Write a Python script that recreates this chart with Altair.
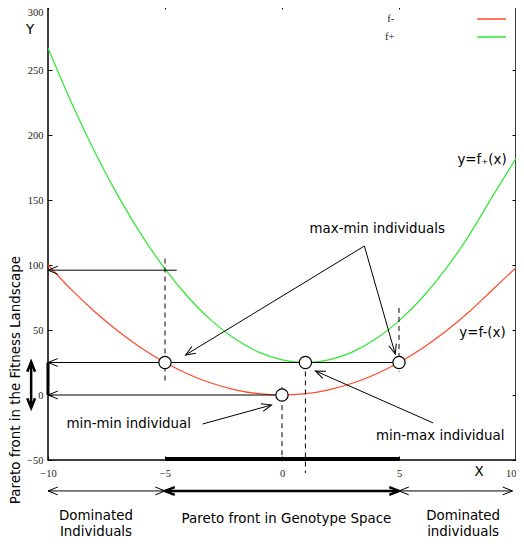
import math
import altair as alt
import pandas as pd

# ---------------- data ----------------
xs = list(range(-10, 11))
f_minus = [100, 81, 64, 49, 36, 25, 16, 9, 4, 1, 0, 1, 4, 9, 16, 25, 36, 49, 64, 81, 98]
f_plus = [267, 225, 187, 153, 123, 97, 75, 57, 43, 33, 27, 25, 27, 33, 43, 57, 75, 97, 123, 153, 182]

x_ticks = [-10, -5, 0, 5, 10]
y_ticks = [-50, 0, 50, 100, 150, 200, 250, 300]

# highlighted individuals (open circles)
pt_x = [-5, 1, 5, 0]
pt_y = [25, 25, 25, 0]

# dashed verticals
dash_x = [-5, 5, 0, 1]
dash_y1 = [105, 67, 6, 25]
dash_y2 = [8, 18, -51, -60]

# horizontal guides, arrowhead at the left end
hl_y = [96, 25, 0]
hl_x1 = [-10, -10, -10]
hl_x2 = [-4.5, 5, 0]

# callout arrows: start -> tip
ca_x1 = [3.52, 3.52, -3.39, 6.46]
ca_y1 = [114.6, 114.6, -22.3, -21.5]
ca_x2 = [-4.12, 4.84, -0.45, 1.43]
ca_y2 = [30.8, 31.5, -7.7, 18.5]

# bottom double arrows (genotype space)
ba_x1 = [-10, -5, 5]
ba_x2 = [-5, 5, 9.85]
ba_y = -73.8
ba_w = [1, 2.5, 1]

# left bold double arrow (fitness landscape)
la_x = -10.72
la_y1, la_y2 = 25.4, -10

# labels
lab_text = ["y=f\u208a(x)", "y=f-(x)", "max-min individuals", "min-min individual",
            "min-max individual", "Dominated", "Individuals",
            "Pareto front in Genotype Space", "Dominated", "individuals", "Y", "X"]
lab_x = [8.55, 8.57, 4.07, -6.55, 6.76, -7.95, -7.95, 0.19, 7.74, 7.74, -10.77, 8.42]
lab_y = [180.5, 47.7, 127.7, -22.3, -31.5, -93.1, -105.4, -95.4, -93.1, -105.4, 280.8, -59.2]

# legend
leg_names = ["f-", "f+"]
leg_colors = ["#ff4a26", "#2ee82e"]
leg_y = [289.2, 275.4]
leg_x_text = 4.8
leg_x1, leg_x2 = 8.34, 9.57

RED = "#ff4a26"
GREEN = "#2ee82e"
SANS = "DejaVu Sans"
FS = 13.4

# ---------------- geometry helpers ----------------
W, H = 468, 455
SX = W / 20.0
SY = H / 350.0

xs_scale = alt.Scale(domain=[-10, 10], nice=False, zero=False)
ys_scale = alt.Scale(domain=[-50, 300], nice=False, zero=False)


def X(field, axis=None):
    return alt.X(field, type="quantitative", scale=xs_scale, axis=axis)


def Y(field, axis=None):
    return alt.Y(field, type="quantitative", scale=ys_scale, axis=axis)


def head_angle(xo, yo, xt, yt):
    a = math.degrees(math.atan2(-(yt - yo) * SY, (xt - xo) * SX))
    return a % 360


ARROW = "M-1,-0.4L0,0L-1,0.4"

# ---------------- layers ----------------
curves = pd.DataFrame({"x": xs * 2, "y": f_minus + f_plus,
                       "s": ["f-"] * len(xs) + ["f+"] * len(xs)})

axis_left = alt.Axis(values=y_ticks, orient="left", offset=-4, tickSize=4, domain=False,
                     grid=False, title=None, labelFont="Liberation Serif", labelFontSize=10.5,
                     labelColor="#222", labelPadding=5, tickColor="black", tickWidth=1,
                     labelOffset=alt.ExprRef(expr="datum.value == 300 ? 7 : 0"))
axis_bottom = alt.Axis(values=x_ticks, orient="bottom", offset=-4, tickSize=4, domain=False,
                       grid=False, title=None, labelFont="Liberation Serif", labelFontSize=10.5,
                       labelColor="#222", labelPadding=8, tickColor="black", tickWidth=1,
                       labelFlush=False,
                       labelAlign=alt.ExprRef(expr="datum.value == 10 ? 'right' : 'center'"))
axis_right = alt.Axis(values=y_ticks, orient="right", offset=-4, tickSize=4, domain=False,
                      grid=False, title=None, labels=False, tickColor="black", tickWidth=1)
axis_top = alt.Axis(values=x_ticks, orient="top", offset=-4, tickSize=4, domain=False,
                    grid=False, title=None, labels=False, tickColor="black", tickWidth=1)

red_line = alt.Chart(curves[curves.s == "f-"]).mark_line(
    color=RED, strokeWidth=1.2, interpolate="monotone").encode(
    x=X("x", axis_bottom), y=Y("y", axis_left), order="x:Q")
green_line = alt.Chart(curves[curves.s == "f+"]).mark_line(
    color=GREEN, strokeWidth=1.2, interpolate="monotone").encode(
    x=X("x", axis_top), y=Y("y", axis_right), order="x:Q")

dash_df = pd.DataFrame({"x": dash_x, "y1": dash_y1, "y2": dash_y2})
dashes = alt.Chart(dash_df).mark_rule(color="black", strokeWidth=1, strokeDash=[5, 4]).encode(
    x=X("x"), y=Y("y1"), y2="y2")

hl_df = pd.DataFrame({"y": hl_y, "x1": hl_x1, "x2": hl_x2})
hlines = alt.Chart(hl_df).mark_rule(color="black", strokeWidth=1).encode(
    x=X("x1"), x2="x2", y=Y("y"))

ca_df = pd.DataFrame({"x1": ca_x1, "y1": ca_y1, "x2": ca_x2, "y2": ca_y2})
callouts = alt.Chart(ca_df).mark_rule(color="black", strokeWidth=1).encode(
    x=X("x1"), y=Y("y1"), x2="x2", y2="y2")

ba_df = pd.DataFrame({"x1": ba_x1, "x2": ba_x2, "y": [ba_y] * 3, "w": ba_w})
bottom_arrows = alt.Chart(ba_df).mark_rule(color="black").encode(
    x=X("x1"), x2="x2", y=Y("y"), strokeWidth=alt.StrokeWidth("w:Q", scale=None))

la_df = pd.DataFrame({"x": [la_x], "y1": [la_y1], "y2": [la_y2]})
left_arrow = alt.Chart(la_df).mark_rule(color="black", strokeWidth=2.5).encode(
    x=X("x"), y=Y("y1"), y2="y2")

bold_df = pd.DataFrame({"x": [-10, -5], "x2": [-10, 5], "y1": [0, -49.3], "y2": [25, -49.3],
                        "w": [3, 4]})
bold_seg = alt.Chart(bold_df).mark_rule(color="black").encode(
    x=X("x"), x2="x2", y=Y("y1"), y2="y2", strokeWidth=alt.StrokeWidth("w:Q", scale=None))

# arrowheads
hx, hy, ha, hw = [], [], [], []
for y, x1 in zip(hl_y, hl_x1):
    hx.append(x1); hy.append(y); ha.append(180.0); hw.append(1)
for x1, y1, x2, y2 in zip(ca_x1, ca_y1, ca_x2, ca_y2):
    hx.append(x2); hy.append(y2); ha.append(head_angle(x1, y1, x2, y2)); hw.append(1)
for x1, x2, w in zip(ba_x1, ba_x2, ba_w):
    hx.append(x1); hy.append(ba_y); ha.append(180.0); hw.append(w)
    hx.append(x2); hy.append(ba_y); ha.append(0.0); hw.append(w)
hx.append(la_x); hy.append(la_y1); ha.append(270.0); hw.append(2.5)
hx.append(la_x); hy.append(la_y2); ha.append(90.0); hw.append(2.5)
heads_df = pd.DataFrame({"x": hx, "y": hy, "a": ha, "w": hw})
heads = alt.Chart(heads_df).mark_point(shape=ARROW, filled=False, color="black", size=380,
                                       opacity=1, strokeJoin="miter").encode(
    x=X("x"), y=Y("y"), angle=alt.Angle("a:Q", scale=None),
    strokeWidth=alt.StrokeWidth("w:Q", scale=None))

pts_df = pd.DataFrame({"x": pt_x, "y": pt_y})
points = alt.Chart(pts_df).mark_point(shape="circle", filled=True, fill="white", stroke="black",
                                      strokeWidth=1.2, size=150, opacity=1).encode(
    x=X("x"), y=Y("y"))

lab_df = pd.DataFrame({"t": lab_text, "x": lab_x, "y": lab_y})
labels = alt.Chart(lab_df).mark_text(font=SANS, fontSize=FS, color="black",
                                     align="center", baseline="middle").encode(
    x=X("x"), y=Y("y"), text="t:N")

side = alt.Chart(pd.DataFrame({"t": ["Pareto front in the Fitness Landscape"],
                               "x": [-11.36], "y": [11.5]})).mark_text(
    font=SANS, fontSize=FS, color="black", angle=270,
    align="center", baseline="middle").encode(x=X("x"), y=Y("y"), text="t:N")

leg_df = pd.DataFrame({"n": leg_names, "c": leg_colors, "y": leg_y,
                       "xt": [leg_x_text] * 2, "x1": [leg_x1] * 2, "x2": [leg_x2] * 2})
leg_text = alt.Chart(leg_df).mark_text(font="Liberation Serif", fontSize=10.5, color="#222",
                                       align="right", baseline="middle").encode(
    x=X("xt"), y=Y("y"), text="n:N")
leg_lines = alt.Chart(leg_df).mark_rule(strokeWidth=1.5).encode(
    x=X("x1"), x2="x2", y=Y("y"), color=alt.Color("c:N", scale=None))

chart = alt.layer(
    red_line, green_line, dashes, hlines, callouts, bottom_arrows, left_arrow, bold_seg,
    heads, points, labels, side, leg_text, leg_lines
).resolve_axis(x="independent", y="independent").properties(
    width=W, height=H,
    autosize=alt.AutoSizeParams(type="none"),
    padding={"left": 40, "top": -3, "right": 0, "bottom": 82},
).configure_view(stroke="black", strokeWidth=1.5)

chart.save("out.html", embed_options={"renderer": "svg", "actions": False})
